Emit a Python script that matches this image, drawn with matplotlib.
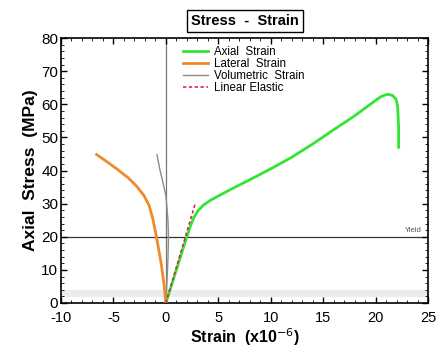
import matplotlib
matplotlib.use('Agg')
import matplotlib.pyplot as plt
from matplotlib.ticker import MultipleLocator

plt.rcParams['font.family'] = ['Liberation Sans', 'DejaVu Sans']
plt.rcParams['axes.unicode_minus'] = False

# strain in x10^-6, stress in MPa
axial_strain = [0, 0.5, 1.0, 1.5, 2.0, 2.35, 2.7, 3.1, 3.6, 4.2, 5.0, 6.5, 8.0, 10.0, 12.0, 14.0, 16.0, 18.0, 19.5, 20.5, 21.1, 21.6, 21.95, 22.1, 22.2, 22.2]
axial_stress = [0, 5.0, 10.0, 15.0, 20.0, 23.3, 26.0, 28.0, 29.6, 30.9, 32.3, 34.8, 37.2, 40.5, 44.0, 48.0, 52.3, 56.5, 60.0, 62.3, 63.0, 62.7, 61.5, 59.5, 53.0, 47.0]

lateral_strain = [0, -0.15, -0.45, -0.9, -1.25, -1.6, -2.1, -2.8, -3.6, -4.6, -5.6, -6.6]
lateral_stress = [0, 5.0, 12.0, 20.0, 25.5, 29.5, 32.5, 35.3, 37.8, 40.3, 42.6, 44.8]

volumetric_strain = [0, 0.1, 0.2, 0.25, 0.2, 0.1, 0.0, -0.25, -0.55, -0.85]
volumetric_stress = [0, 6.0, 13.0, 20.0, 25.0, 29.0, 32.5, 36.0, 40.0, 44.8]

elastic_strain = [0, 2.8]
elastic_stress = [0, 30]

yield_stress = 20

fig = plt.figure(figsize=(4.38, 3.47), dpi=100)
ax = fig.add_axes([61/438, 1 - 303/347, 367/438, 265/347])

ax.axhspan(1.8, 3.9, color='#ececec', lw=0, zorder=0)
ax.axvline(0, color='#777777', lw=0.9, zorder=1)
ax.axhline(yield_stress, color='#333333', lw=0.9, zorder=1)
ax.text(24.4, yield_stress + 0.8, 'Yield', fontsize=5.5, color='#555555', ha='right', va='bottom')

ax.plot(axial_strain, axial_stress, color='#33e533', lw=2, label='Axial  Strain', zorder=3)
ax.plot(lateral_strain, lateral_stress, color='#f0892a', lw=2, label='Lateral  Strain', zorder=3)
ax.plot(volumetric_strain, volumetric_stress, color='#8c8c8c', lw=1, label='Volumetric  Strain', zorder=2)
ax.plot(elastic_strain, elastic_stress, color='#d42a4a', lw=1.2, ls=(0, (2, 1.5)), label='Linear Elastic', zorder=4)

ax.set_xlim(-10, 25)
ax.set_ylim(0, 80)
ax.xaxis.set_major_locator(MultipleLocator(5))
ax.xaxis.set_minor_locator(MultipleLocator(1))
ax.yaxis.set_major_locator(MultipleLocator(10))
ax.yaxis.set_minor_locator(MultipleLocator(2))
ax.tick_params(which='both', direction='in', top=True, right=True, labelsize=11)
ax.tick_params(axis='x', pad=6, labelsize=10.5)
ax.tick_params(axis='y', pad=2)
ax.tick_params(which='major', length=4, width=1)
ax.tick_params(which='minor', length=2, width=0.6)
for s in ax.spines.values():
    s.set_linewidth(1.2)

ax.set_xlabel('Strain  (x10$^{-6}$)', fontsize=11.5, fontweight='bold', labelpad=0.5)
ax.set_ylabel('Axial  Stress  (MPa)', fontsize=12.5, fontweight='bold', labelpad=2)

ax.legend(loc='upper left', bbox_to_anchor=(0.31, 1.0), frameon=False, fontsize=8.3,
          handlelength=2.2, handletextpad=0.5, labelspacing=0.0, borderaxespad=0.3)

fig.text(245/438, 1 - 21/347, 'Stress  -  Strain', ha='center', va='center', fontsize=10.5, fontweight='bold',
         bbox=dict(boxstyle='square,pad=0.3', fc='white', ec='black', lw=1))

fig.savefig('out.png', dpi=100)
